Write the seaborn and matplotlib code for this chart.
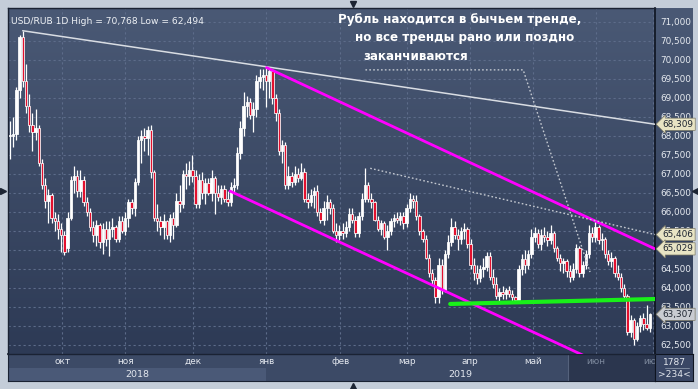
import numpy as np
import pandas as pd
import seaborn as sns
import matplotlib
matplotlib.use('Agg')
import matplotlib.pyplot as plt
from matplotlib.colors import LinearSegmentedColormap
from matplotlib.lines import Line2D
from matplotlib import ticker

# USD/RUB daily candles
opens = [
    68.0, 68.0, 68.05, 69.2, 70.6, 69.45, 68.8, 68.3, 68.1, 68.2,
    67.3, 66.7, 66.3, 66.45, 65.85, 65.75, 65.55, 65.4, 65.05, 65.85,
    66.85, 66.95, 66.55, 66.85, 66.25, 66.0, 65.6, 65.4, 65.65, 65.2,
    65.55, 65.3, 65.55, 65.6, 65.3, 65.75, 65.5, 65.85, 66.25, 66.1,
    66.8, 67.9, 68.0, 67.95, 68.15, 67.05, 65.85, 65.75, 65.6, 65.75,
    65.4, 65.85, 65.65, 66.3, 66.2, 67.0, 66.95, 67.1, 66.95, 66.2,
    66.85, 66.5, 66.75, 66.5, 66.9, 66.5, 66.4, 66.6, 66.35, 66.25,
    66.65, 66.7, 67.55, 68.2, 68.8, 68.9, 68.55, 68.7, 69.45, 69.55,
    69.6, 69.45, 69.7, 69.0, 68.6, 67.6, 67.75, 66.7, 66.95, 66.8,
    67.0, 66.9, 67.05, 66.35, 66.25, 66.45, 66.55, 66.0, 65.8, 66.1,
    66.25, 66.1, 65.5, 65.4, 65.5, 65.45, 65.6, 65.95, 65.8, 65.45,
    65.9, 66.35, 66.7, 66.35, 66.25, 65.8, 65.55, 65.7, 65.35, 65.5,
    65.75, 65.85, 65.8, 65.9, 65.7, 66.1, 66.35, 66.3, 65.9, 65.5,
    65.3, 64.8, 64.4, 64.2, 63.75, 64.6, 63.95, 64.9, 65.2, 65.6,
    65.4, 65.3, 65.5, 65.55, 65.15, 64.6, 64.4, 64.25, 64.5, 64.55,
    64.85, 64.3, 64.1, 63.8, 63.9, 63.85, 63.95, 63.85, 63.75, 63.68,
    64.5, 64.75, 64.6, 64.9, 65.35, 65.45, 65.15, 65.4, 65.35, 65.25,
    65.45, 65.05, 64.8, 64.65, 64.7, 64.45, 64.3, 64.5, 65.05, 64.4,
    64.6, 64.9, 65.45, 65.35, 65.6, 65.25, 65.3, 64.9, 64.7, 64.8,
    64.4, 64.3, 64.0, 63.8, 62.85, 63.15, 62.65, 63.0, 63.2, 63.05,
    62.95,
]
highs = [
    68.4, 68.5, 69.3, 70.65, 70.77, 69.9, 69.1, 68.6, 68.7, 68.3,
    67.4, 66.9, 66.6, 66.5, 66.0, 65.95, 65.7, 65.5, 66.0, 66.95,
    67.2, 67.1, 67.1, 66.95, 66.4, 66.1, 65.75, 65.8, 65.7, 65.7,
    65.75, 65.75, 65.85, 65.65, 65.9, 65.9, 66.0, 66.35, 66.35, 66.9,
    68.0, 68.15, 68.2, 68.25, 68.3, 67.1, 66.2, 65.9, 65.95, 65.8,
    65.95, 66.0, 66.5, 66.7, 67.1, 67.3, 67.35, 67.5, 67.1, 67.0,
    67.05, 66.9, 66.9, 67.1, 66.95, 66.7, 66.7, 66.7, 66.55, 66.8,
    66.9, 67.7, 68.4, 69.15, 69.05, 69.0, 68.9, 69.6, 69.75, 69.75,
    69.8, 69.8, 69.75, 69.1, 68.7, 67.9, 67.85, 67.2, 67.05, 67.2,
    67.15, 67.3, 67.15, 66.5, 66.6, 66.65, 66.7, 66.1, 66.3, 66.45,
    66.35, 66.2, 65.7, 65.65, 65.7, 65.75, 66.1, 66.1, 65.9, 66.0,
    66.5, 67.15, 66.8, 66.5, 66.3, 65.9, 65.8, 65.75, 65.65, 65.85,
    65.95, 66.0, 66.0, 66.0, 66.2, 66.5, 66.45, 66.45, 65.95, 65.55,
    65.4, 64.9, 64.5, 64.3, 64.8, 64.75, 65.0, 65.4, 65.85, 65.75,
    65.55, 65.6, 65.7, 65.6, 65.3, 64.8, 64.6, 64.6, 64.8, 64.95,
    64.95, 64.5, 64.3, 64.0, 64.05, 64.0, 64.05, 63.95, 63.8, 64.6,
    64.9, 65.0, 65.0, 65.55, 65.6, 65.55, 65.55, 65.6, 65.5, 65.65,
    65.5, 65.1, 64.9, 64.8, 64.75, 64.6, 64.65, 65.15, 65.1, 64.7,
    65.0, 65.65, 65.6, 65.8, 65.65, 65.45, 65.35, 65.0, 64.95, 64.85,
    64.6, 64.4, 64.1, 63.85, 63.3, 63.2, 63.1, 63.3, 63.35, 63.55,
    63.35,
]
lows = [
    67.4, 67.7, 67.9, 69.0, 69.3, 68.6, 68.1, 67.6, 67.9, 67.2,
    66.6, 66.1, 65.7, 65.7, 65.5, 65.3, 64.95, 64.87, 64.95, 65.8,
    66.5, 66.4, 66.4, 66.15, 65.9, 65.5, 65.2, 65.1, 65.05, 64.9,
    65.1, 64.85, 65.35, 65.2, 65.2, 65.45, 65.4, 65.6, 65.95, 65.9,
    66.7, 67.3, 67.6, 67.5, 66.9, 65.75, 65.5, 65.4, 65.3, 65.3,
    65.2, 65.3, 65.6, 66.0, 66.1, 66.6, 66.7, 66.8, 66.1, 66.1,
    66.35, 66.2, 66.45, 66.3, 65.95, 66.3, 66.2, 66.25, 66.15, 66.15,
    66.5, 66.6, 67.4, 68.0, 68.5, 68.45, 68.1, 68.5, 69.25, 69.2,
    68.75, 69.0, 68.85, 68.4, 67.5, 67.3, 66.6, 66.6, 66.65, 66.7,
    66.8, 66.85, 66.25, 66.1, 66.15, 66.1, 65.9, 65.7, 65.65, 65.8,
    65.95, 65.45, 65.2, 65.25, 65.3, 65.35, 65.5, 65.7, 65.35, 65.35,
    65.8, 66.25, 66.25, 66.1, 65.75, 65.5, 65.4, 65.3, 65.0, 65.4,
    65.6, 65.7, 65.65, 65.55, 65.6, 66.0, 66.1, 65.8, 65.4, 65.2,
    64.75, 64.3, 64.1, 63.6, 63.6, 63.85, 63.9, 64.8, 65.1, 65.3,
    65.0, 65.15, 65.3, 65.05, 64.5, 64.2, 64.1, 64.15, 64.3, 64.45,
    64.2, 64.0, 63.7, 63.65, 63.7, 63.7, 63.75, 63.65, 63.62, 63.62,
    64.35, 64.4, 64.5, 64.8, 65.2, 65.05, 65.0, 65.2, 65.1, 65.15,
    64.95, 64.7, 64.45, 64.4, 64.3, 64.15, 64.2, 64.4, 64.3, 64.3,
    64.5, 64.8, 65.2, 65.2, 65.15, 65.0, 64.8, 64.6, 64.55, 64.3,
    64.2, 63.9, 63.7, 62.75, 62.7, 62.49, 62.6, 62.85, 62.9, 62.9,
    62.85,
]
closes = [
    68.0, 68.05, 69.2, 70.6, 69.45, 68.8, 68.3, 68.1, 68.2, 67.3,
    66.7, 66.3, 66.45, 65.85, 65.75, 65.55, 65.4, 64.95, 65.85, 66.85,
    66.95, 66.55, 66.85, 66.25, 66.0, 65.6, 65.4, 65.65, 65.2, 65.55,
    65.3, 65.55, 65.6, 65.3, 65.75, 65.5, 65.85, 66.25, 66.1, 66.8,
    67.9, 68.0, 67.95, 68.15, 67.05, 65.85, 65.75, 65.6, 65.75, 65.4,
    65.85, 65.65, 66.3, 66.2, 67.0, 66.95, 67.1, 66.95, 66.2, 66.85,
    66.5, 66.75, 66.5, 66.9, 66.5, 66.4, 66.6, 66.35, 66.25, 66.65,
    66.7, 67.55, 68.2, 68.8, 68.9, 68.55, 68.7, 69.45, 69.55, 69.6,
    69.45, 69.7, 69.0, 68.6, 67.6, 67.75, 66.7, 66.95, 66.8, 67.0,
    66.9, 67.05, 66.35, 66.25, 66.45, 66.55, 66.0, 65.8, 66.1, 66.25,
    66.1, 65.5, 65.4, 65.5, 65.45, 65.6, 65.95, 65.8, 65.45, 65.9,
    66.35, 66.7, 66.35, 66.25, 65.8, 65.55, 65.7, 65.35, 65.5, 65.75,
    65.85, 65.8, 65.9, 65.7, 66.1, 66.35, 66.3, 65.9, 65.5, 65.3,
    64.8, 64.4, 64.2, 63.75, 64.6, 63.95, 64.9, 65.2, 65.6, 65.4,
    65.3, 65.5, 65.55, 65.15, 64.6, 64.4, 64.25, 64.5, 64.55, 64.85,
    64.3, 64.1, 63.8, 63.9, 63.85, 63.95, 63.85, 63.75, 63.68, 64.5,
    64.75, 64.6, 64.9, 65.35, 65.45, 65.15, 65.4, 65.35, 65.25, 65.45,
    65.05, 64.8, 64.65, 64.7, 64.45, 64.3, 64.5, 65.05, 64.4, 64.6,
    64.9, 65.45, 65.35, 65.6, 65.25, 65.3, 64.9, 64.7, 64.8, 64.4,
    64.3, 64.0, 63.8, 62.85, 63.15, 62.65, 63.0, 63.2, 63.05, 62.95,
    63.31,
]

# month ticks (candle index of month start) and their labels
month_pos = [16.3, 36.0, 57.3, 80.1, 103.2, 124.2, 143.8, 163.5, 183.2, 201.0]
month_lbl = ['окт', 'ноя', 'дек', 'янв', 'фев', 'мар', 'апр', 'май', 'июн', 'июл']
year_lbl = ['2018', '2019']
year_span = [(-0.6, 80.1), (80.1, 201.6)]

# drawn trend lines: (x0, y0, x1, y1) in candle index / price
grey_line = (4, 70.77, 201.6, 68.309)
magenta_top = (80.2, 69.8, 201.6, 65.029)
magenta_low = (68.8, 66.55, 201.6, 61.35)
green_line = (137.6, 63.58, 201.6, 63.71)
dotted_line = (112.6, 67.15, 201.6, 65.406)
pointer_x = [111.1, 160.4, 181.3]
pointer_y = [69.74, 69.74, 64.42]

price_tags = [68.309, 65.406, 65.029, 63.307]
tag_colors = ['#e8e4c4', '#e8e4c4', '#e8e4c4', '#c9ccd2']

df = pd.DataFrame({'open': opens, 'high': highs, 'low': lows, 'close': closes})
df['idx'] = np.arange(len(df))
df['up'] = df['close'] >= df['open']

sns.set_style('dark')
plt.rcParams['font.family'] = ['DejaVu Sans']

W, H = 698, 389
fig = plt.figure(figsize=(W / 100, H / 100), dpi=100)
fig.patch.set_facecolor('#c4cdd9')

def px_rect(x0, y0, x1, y1):
    return [x0 / W, 1 - y1 / H, (x1 - x0) / W, (y1 - y0) / H]

bg = LinearSegmentedColormap.from_list('bg', ['#2d3a55', '#4a5975'])
grad = np.linspace(0, 1, 256).reshape(-1, 1)

# right price panel
ax_r = fig.add_axes(px_rect(655, 8, 693, 354))
ax_r.imshow(grad, extent=[0, 1, 0, 1], origin='lower', cmap=bg, aspect='auto')
ax_r.set_xlim(0, 1); ax_r.set_ylim(0, 1)
ax_r.set_xticks([]); ax_r.set_yticks([])
for s in ax_r.spines.values():
    s.set_visible(False)

# main chart
ax = fig.add_axes(px_rect(8, 8, 655, 354))
ax.set_zorder(3)
ax.imshow(grad, extent=[0, 1, 0, 1], origin='lower', cmap=bg, aspect='auto',
          transform=ax.transAxes, zorder=0)

ylo, yhi = 62.263, 71.368
ax.set_xlim(-0.6, 201.6)
ax.set_ylim(ylo, yhi)

ax.set_yticks(np.arange(62.5, 71.01, 0.5))
ax.yaxis.tick_right()
ax.yaxis.set_major_formatter(ticker.FuncFormatter(lambda v, p: f'{v:.3f}'.replace('.', ',')))
ax.tick_params(axis='y', length=0, pad=4, labelsize=6.4, labelcolor='#e6eaf0')
ax.set_xticks(month_pos)
ax.tick_params(axis='x', length=0, labelbottom=False)
ax.grid(True, color='#5d6c8a', lw=0.8, ls=(0, (2, 2.5)))
ax.set_axisbelow(True)
for s in ['top', 'left', 'bottom']:
    ax.spines[s].set_color('#1a2233')
    ax.spines[s].set_linewidth(1)
ax.spines['right'].set_color('#0e1420')
ax.spines['right'].set_linewidth(1.2)

# candles
ax.vlines(df['idx'], df['low'], df['high'], color='white', lw=0.9, zorder=3)
body_lo = np.minimum(df['open'], df['close'])
body_h = np.maximum((df['close'] - df['open']).abs(), 0.03)
ax.bar(df['idx'], body_h, bottom=body_lo, width=0.75,
       color=np.where(df['up'], 'white', '#e3102e'), edgecolor='white',
       linewidth=0.55, zorder=4)

# trend lines
def seg(t):
    return [t[0], t[2]], [t[1], t[3]]

x, y = seg(grey_line)
sns.lineplot(x=x, y=y, ax=ax, color='#d9dde3', lw=1.1, zorder=5)
x, y = seg(magenta_top)
sns.lineplot(x=x, y=y, ax=ax, color='#ff00ff', lw=2.0, zorder=5)
x, y = seg(magenta_low)
sns.lineplot(x=x, y=y, ax=ax, color='#ff00ff', lw=2.0, zorder=5)
x, y = seg(green_line)
sns.lineplot(x=x, y=y, ax=ax, color='#19f019', lw=3.0, zorder=5)
x, y = seg(dotted_line)
ax.plot(x, y, color='#c3c8d0', lw=1.0, ls=(0, (1.2, 1.6)), zorder=5)
ax.plot(pointer_x, pointer_y, color='#c3c8d0', lw=1.0, ls=(0, (1.2, 1.6)), zorder=5)
ax.set_xlim(-0.6, 201.6)
ax.set_ylim(ylo, yhi)
ax.set_xlabel(None); ax.set_ylabel(None)

# price tags on the right scale
for val, c in zip(price_tags, tag_colors):
    ax.annotate(f'{val:.3f}'.replace('.', ','), xy=(1.0, val),
                xycoords=('axes fraction', 'data'), xytext=(5.5, 0),
                textcoords='offset points', ha='left', va='center',
                fontsize=6.4, color='#1d2430', annotation_clip=False, zorder=8,
                bbox=dict(boxstyle='larrow,pad=0.18', fc=c, ec='#7d7a66', lw=0.5))

ax.text(0.004, 0.975, 'USD/RUB 1D High = 70,768 Low = 62,494', transform=ax.transAxes,
        ha='left', va='top', fontsize=6.6, color='#eef1f5', zorder=9)

note = [('Рубль находится в бычьем тренде,', 338, 20),
        ('но все тренды рано или поздно', 355, 38),
        ('заканчиваются', 363, 57)]
for txt, nx, ny in note:
    fig.text(nx / W, 1 - ny / H, txt, ha='left', va='center', fontsize=8.6,
             fontweight='bold', color='white', zorder=10)

# bottom time panel
ax_b = fig.add_axes(px_rect(8, 354, 655, 381))
ax_b.set_facecolor('#3c4a66')
ax_b.set_xlim(-0.6, 201.6)
ax_b.set_ylim(0, 1)
ax_b.axvspan(year_span[0][0], year_span[0][1], ymin=0, ymax=0.5, color='#4a5977', lw=0)
ax_b.axvspan(174.5, 201.6, color='#2b364e', lw=0)
ax_b.axvline(174.5, color='#55627c', lw=0.8)
for p, m in zip(month_pos, month_lbl):
    col = '#7b879b' if p > 174.5 else '#e3e7ee'
    ax_b.text(p, 0.74, m, ha='center', va='center', fontsize=6.4, color=col, clip_on=True)
for (a, b), yl in zip(year_span, year_lbl):
    ax_b.text((a + b) / 2, 0.25, yl, ha='center', va='center', fontsize=6.8, color='#e3e7ee')
ax_b.set_xticks([]); ax_b.set_yticks([])
for s in ax_b.spines.values():
    s.set_color('#1a2233')
ax_b.spines['top'].set_color('#0e1420')
ax_b.spines['top'].set_linewidth(1.2)

# corner box
ax_c = fig.add_axes(px_rect(655, 354, 693, 381))
ax_c.set_facecolor('#3a4765')
ax_c.set_xticks([]); ax_c.set_yticks([])
ax_c.text(0.5, 0.7, '1787', ha='center', va='center', fontsize=6.6, color='#e3e7ee')
ax_c.text(0.5, 0.23, '>234<', ha='center', va='center', fontsize=6.6, color='#e3e7ee')
ax_c.plot([0.25, 0.9], [0.47, 0.47], color='#8a95a8', lw=0.6)
ax_c.set_xlim(0, 1); ax_c.set_ylim(0, 1)
for s in ax_c.spines.values():
    s.set_color('#0e1420')

# scroll markers on the frame
for mx, my, mk in [(353, 4, 'v'), (353, 386, '^'), (3, 191, '>'), (695, 191, '<')]:
    fig.add_artist(Line2D([mx / W], [1 - my / H], marker=mk, ms=4.5, color='#1c2433',
                          transform=fig.transFigure, lw=0))

fig.savefig('out.png', dpi=100, facecolor=fig.get_facecolor())
